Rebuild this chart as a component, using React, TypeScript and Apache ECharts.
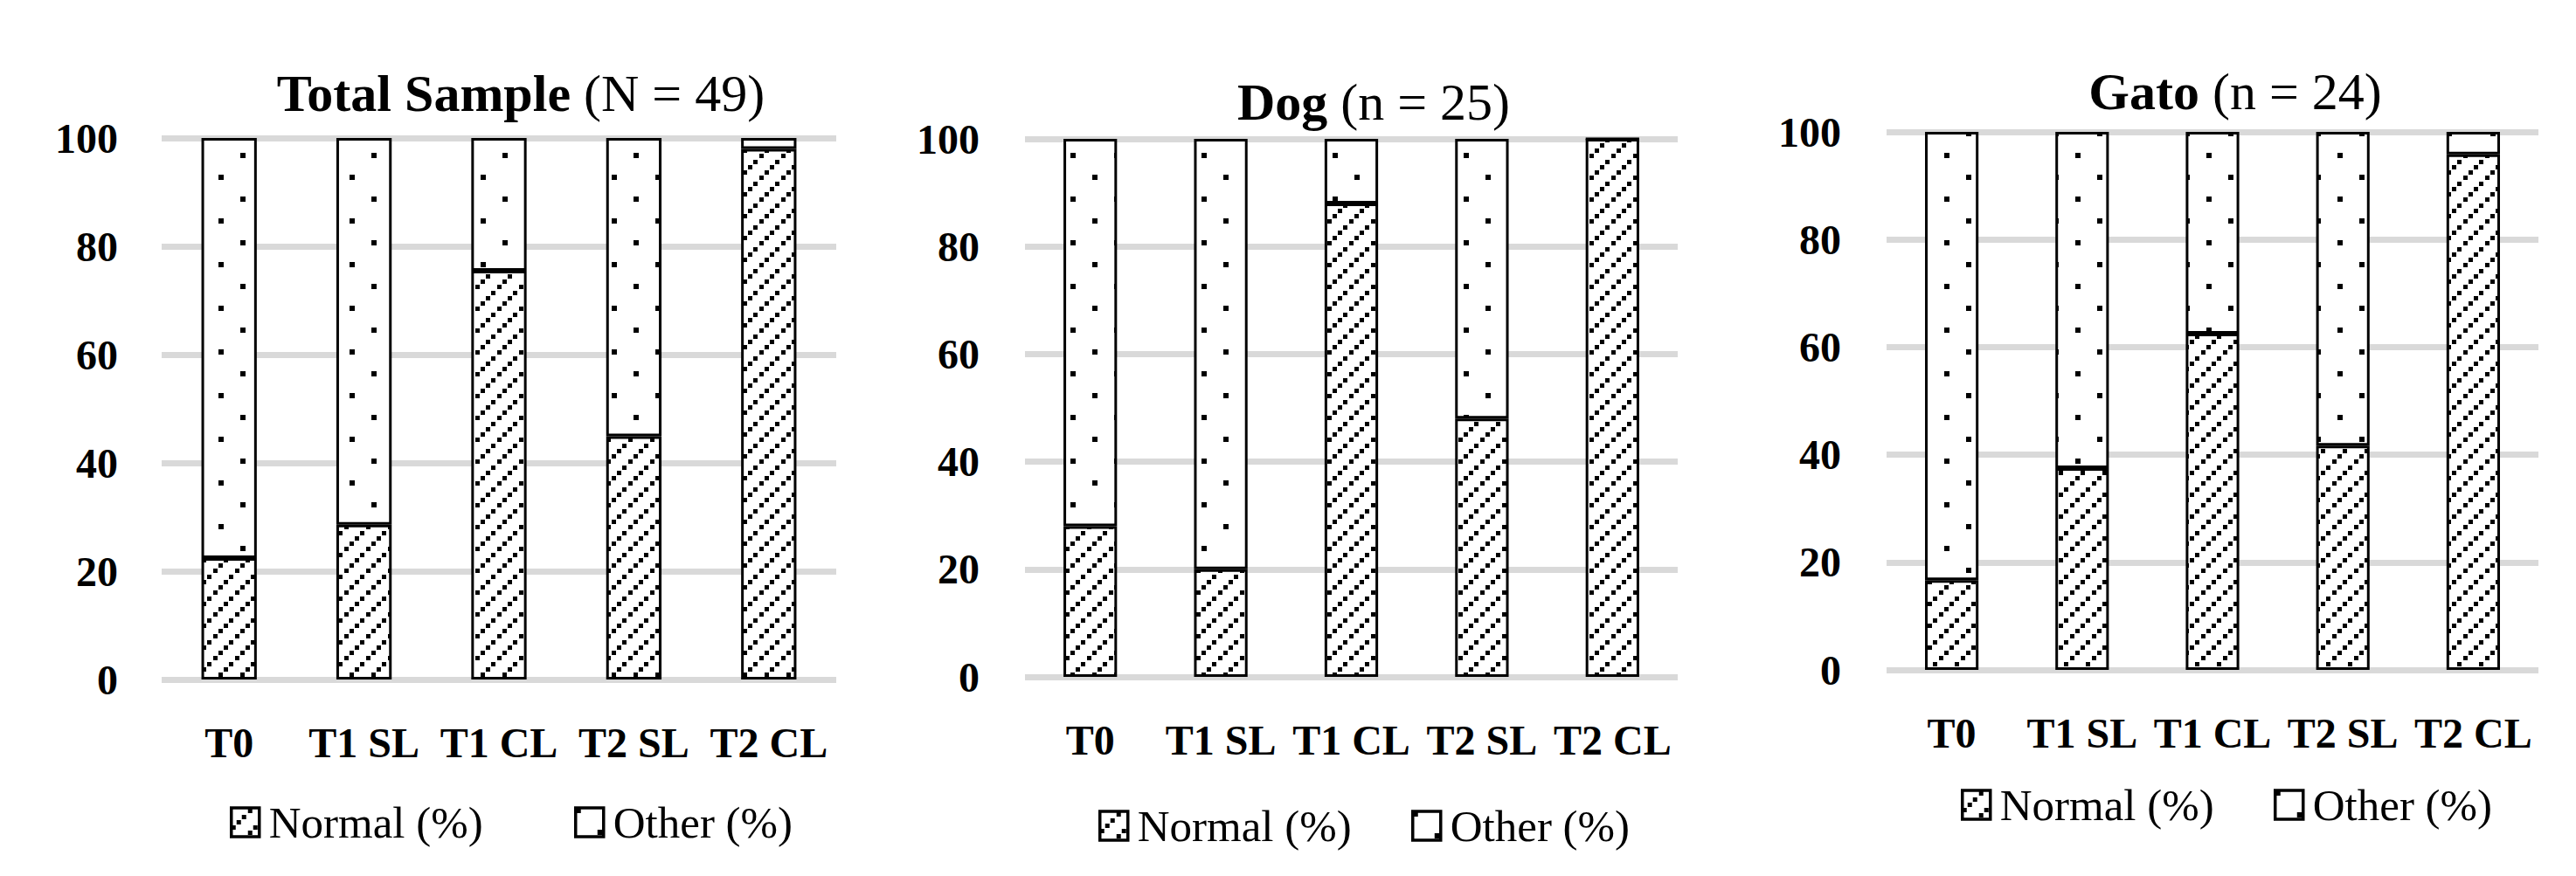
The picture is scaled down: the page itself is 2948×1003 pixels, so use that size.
import React, { useEffect, useRef } from 'react';
import * as echarts from 'echarts';

const categories = ['T0', 'T1 SL', 'T1 CL', 'T2 SL', 'T2 CL'];
const seriesNames = ['Normal (%)', 'Other (%)'];

const totalNormal = [22.4, 28.6, 75.5, 44.9, 98.0];
const totalOther = [77.6, 71.4, 24.5, 55.1, 2.0];
const dogNormal = [28, 20, 88, 48, 100];
const dogOther = [72, 80, 12, 52, 0];
const gatoNormal = [16.7, 37.5, 62.5, 41.7, 95.8];
const gatoOther = [83.3, 62.5, 37.5, 58.3, 4.2];

const titleBold = ['Total Sample', 'Dog', 'Gato'];
const titleRest = ['(N = 49)', '(n = 25)', '(n = 24)'];

const normalSets = [totalNormal, dogNormal, gatoNormal];
const otherSets = [totalOther, dogOther, gatoOther];

const FONT = "'Liberation Serif', 'Times New Roman', serif";

const layout = [
  { left: 185, top: 158, width: 772, height: 620, titleX: 596, titleY: 77, legendY: 933, legendX: [263, 657], yMargin: 50 },
  { left: 1173, top: 159, width: 747, height: 616, titleX: 1572, titleY: 87, legendY: 937, legendX: [1257, 1615], yMargin: 52 },
  { left: 2159, top: 151, width: 746, height: 616, titleX: 2558, titleY: 75, legendY: 913, legendX: [2244, 2602], yMargin: 52 },
];

function makeHatch(): HTMLCanvasElement {
  const c = document.createElement('canvas');
  c.width = 25;
  c.height = 25;
  const ctx = c.getContext('2d')!;
  ctx.fillStyle = '#ffffff';
  ctx.fillRect(0, 0, 25, 25);
  ctx.fillStyle = '#000000';
  const pos = [0, 6, 12, 19];
  pos.forEach((p) => ctx.fillRect(p, 20 - p, 5, 5));
  return c;
}

function makeDots(): HTMLCanvasElement {
  const c = document.createElement('canvas');
  c.width = 50;
  c.height = 50;
  const ctx = c.getContext('2d')!;
  ctx.fillStyle = '#ffffff';
  ctx.fillRect(0, 0, 50, 50);
  ctx.fillStyle = '#000000';
  ctx.fillRect(0, 0, 6, 6);
  ctx.fillRect(25, 25, 6, 6);
  return c;
}

export default function App() {
  const ref = useRef<HTMLDivElement>(null);

  useEffect(() => {
    document.body.style.margin = '0';
    document.body.style.overflow = 'hidden';
    if (!ref.current) return;
    const chart = echarts.init(ref.current, undefined, { renderer: 'svg' });
    const hatch = { image: makeHatch(), repeat: 'repeat' };
    const dots = { image: makeDots(), repeat: 'repeat' };
    const fills = [hatch, dots];

    const grids: any[] = [];
    const xAxes: any[] = [];
    const yAxes: any[] = [];
    const titles: any[] = [];
    const legends: any[] = [];
    const series: any[] = [];

    layout.forEach((p, i) => {
      grids.push({ left: p.left, top: p.top, width: p.width, height: p.height });
      xAxes.push({
        type: 'category',
        gridIndex: i,
        data: categories,
        axisLine: { show: false },
        axisTick: { show: false },
        splitLine: { show: false },
        axisLabel: {
          interval: 0,
          margin: 48,
          fontFamily: FONT,
          fontWeight: 'bold',
          fontSize: 48,
          lineHeight: 48,
          color: '#000',
        },
      });
      yAxes.push({
        type: 'value',
        gridIndex: i,
        min: 0,
        max: 100,
        interval: 20,
        axisLine: { show: false },
        axisTick: { show: false },
        axisLabel: {
          margin: p.yMargin,
          fontFamily: FONT,
          fontWeight: 'bold',
          fontSize: 48,
          color: '#000',
        },
        splitLine: { lineStyle: { color: '#d9d9d9', width: 7 } },
      });
      titles.push({
        text: `{b|${titleBold[i]}}{r| ${titleRest[i]}}`,
        left: p.titleX,
        top: p.titleY,
        textAlign: 'center',
        padding: 0,
        textStyle: {
          fontSize: 60,
          fontFamily: FONT,
          color: '#000',
          rich: {
            b: { fontFamily: FONT, fontWeight: 'bold', fontSize: 60, lineHeight: 60, color: '#000' },
            r: { fontFamily: FONT, fontWeight: 'normal', fontSize: 60, lineHeight: 60, color: '#000' },
          },
        },
      });
      seriesNames.forEach((name, j) => {
        legends.push({
          left: p.legendX[j],
          top: p.legendY - 17,
          padding: 0,
          itemWidth: 32,
          itemHeight: 33,
          icon: 'rect',
          selectedMode: false,
          data: [name],
          formatter: (n: string) => `{t|${n}}`,
          itemStyle: { borderColor: '#000', borderWidth: 3.5 },
          textStyle: {
            fontFamily: FONT,
            fontSize: 51,
            color: '#000',
            rich: {
              t: { fontFamily: FONT, fontSize: 51, lineHeight: 34, color: '#000', padding: [0, 0, 0, 6] },
            },
          },
        });
        series.push({
          type: 'bar',
          name,
          xAxisIndex: i,
          yAxisIndex: i,
          stack: 'stack' + i,
          barWidth: '41%',
          data: j === 0 ? normalSets[i] : otherSets[i],
          itemStyle: { color: fills[j], borderColor: '#000', borderWidth: 3 },
          emphasis: { disabled: true },
        });
      });
    });

    chart.setOption({
      animation: false,
      backgroundColor: '#fff',
      title: titles,
      legend: legends,
      grid: grids,
      xAxis: xAxes,
      yAxis: yAxes,
      series,
    });
    return () => chart.dispose();
  }, []);

  return <div ref={ref} style={{ width: 2948, height: 1003 }} />;
}
